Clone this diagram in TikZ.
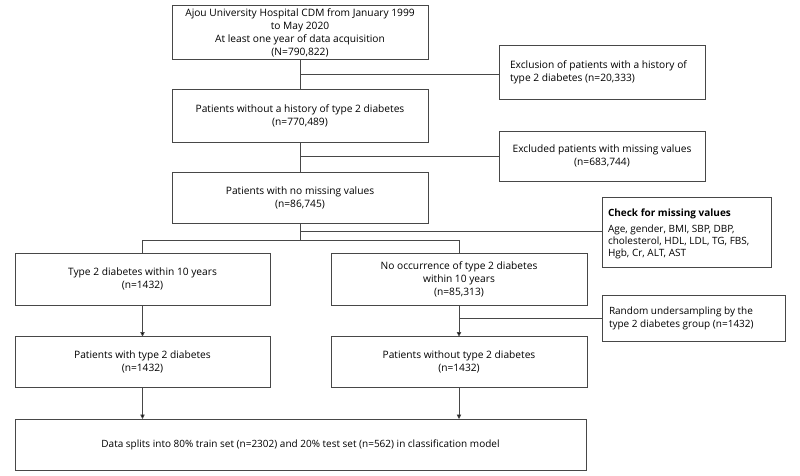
\documentclass[tikz,border=0pt]{standalone}
\usepackage{fontspec}
\setmainfont{Open Sans}
\usetikzlibrary{arrows.meta}
\begin{document}
\begin{tikzpicture}[x=1pt,y=-1pt,
  every node/.style={inner sep=0pt, outer sep=0pt},
  txt/.style={font=\fontsize{10.2}{13}\selectfont},
  box/.style={draw=black!72, line width=0.8pt, align=center, txt},
  frame/.style={draw=black!72, line width=0.8pt},
  conn/.style={draw=black!72, line width=0.8pt},
  arr/.style={conn, -{Triangle[length=4.5pt,width=4.5pt,fill=black]}}
]
\useasboundingbox (0,0) rectangle (800,475);
\node[box, minimum width=256, minimum height=54] (b1) at (300,32.5)
  {Ajou University Hospital CDM from January 1999\\to May 2020\\At least one year of data acquisition\\(N=790,822)};
\node[frame, minimum width=206, minimum height=54] (e1) at (602,72.5) {};
\node[anchor=west, align=left, txt] (e1t) at (510,72.5)
  {Exclusion of patients with a history of\\type 2 diabetes (n=20,333)};
\node[box, minimum width=256, minimum height=53] (b2) at (300,115.5)
  {Patients without a history of type 2 diabetes\\(n=770,489)};
\node[box, minimum width=206, minimum height=50] (e2) at (602,156)
  {Excluded patients with missing values\\(n=683,744)};
\node[box, minimum width=256, minimum height=51] (b3) at (300,197.5)
  {Patients with no missing values\\(n=86,745)};
\node[frame, minimum width=169, minimum height=70] (ck) at (686.5,232) {};
\node[anchor=north west, align=left, font=\fontsize{10}{12}\selectfont] (ckt) at (608,209)
  {\textbf{Check for missing values}\\[4pt]Age, gender, BMI, SBP, DBP,\\cholesterol, HDL, LDL, TG, FBS,\\Hgb, Cr, ALT, AST};
\node[box, minimum width=255, minimum height=52] (l1) at (142.5,279)
  {Type 2 diabetes within 10 years\\(n=1432)};
\node[box, minimum width=256, minimum height=52] (r1) at (459,279)
  {No occurrence of type 2 diabetes\\within 10 years\\(n=85,313)};
\node[frame, minimum width=183, minimum height=46] (rs) at (693.5,318) {};
\node[anchor=west, align=left, font=\fontsize{10}{13}\selectfont] (rst) at (609,318)
  {Random undersampling by the\\type 2 diabetes group (n=1432)};
\node[box, minimum width=255, minimum height=51] (l2) at (142.5,362)
  {Patients with type 2 diabetes\\(n=1432)};
\node[box, minimum width=256, minimum height=51] (r2) at (459,362)
  {Patients without type 2 diabetes\\(n=1432)};
\node[box, minimum width=571, minimum height=51, font=\fontsize{10}{12}\selectfont] (fin) at (300.5,444.5)
  {Data splits into 80\% train set (n=2302) and 20\% test set (n=562) in classification model};
% connectors
\coordinate (j1) at (b1.south |- 0,74);
\coordinate (j2) at (b2.south |- 0,156);
\coordinate (j3) at (b3.south |- 0,231);
\coordinate (j4) at (b3.south |- 0,240);
\coordinate (jl) at (l1.north |- 0,240);
\coordinate (jr) at (r1.north |- 0,240);
\coordinate (j5) at (r1.south |- 0,318);
\draw[conn] (b1.south) -- (b2.north);
\draw[conn] (j1) -- (e1.west |- j1);
\draw[conn] (b2.south) -- (b3.north);
\draw[conn] (j2) -- (e2.west |- j2);
\draw[conn] (b3.south) -- (j4);
\draw[conn] (j3) -- (ck.west |- j3);
\draw[conn] (l1.north) -- (jl) -- (jr) -- (r1.north);
\draw[arr] (l1.south) -- (l2.north);
\draw[arr] (r1.south) -- (r2.north);
\draw[conn] (j5) -- (rs.west |- j5);
\draw[arr] (l2.south) -- (fin.north -| l2.south);
\draw[arr] (r2.south) -- (fin.north -| r2.south);
\end{tikzpicture}
\end{document}
